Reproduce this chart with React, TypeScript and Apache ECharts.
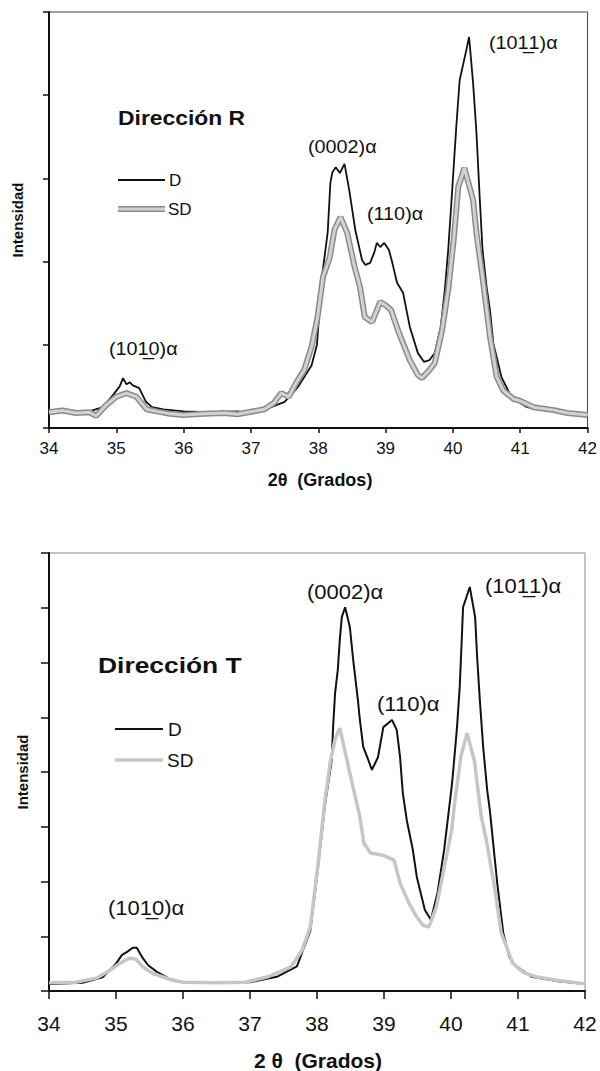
import React, { useEffect, useRef } from "react";
import * as echarts from "echarts";

// ---------- Data (2θ in degrees, intensity in arbitrary units) ----------
// Top panel: Dirección R  (y axis 0..100)
const rThetaD = [34.0, 34.3, 34.6, 34.8, 34.95, 35.05, 35.1, 35.15, 35.2, 35.24, 35.34, 35.44, 35.53, 35.7, 36.0, 36.4, 36.8, 37.0, 37.3, 37.5, 37.7, 37.9, 37.98, 38.06, 38.14, 38.18, 38.21, 38.26, 38.32, 38.39, 38.46, 38.55, 38.65, 38.7, 38.77, 38.83, 38.87, 38.92, 38.98, 39.05, 39.1, 39.17, 39.26, 39.36, 39.48, 39.57, 39.65, 39.73, 39.82, 39.88, 39.93, 39.98, 40.05, 40.1, 40.2, 40.24, 40.3, 40.35, 40.4, 40.44, 40.5, 40.55, 40.6, 40.72, 40.89, 40.97, 41.0, 41.1, 41.4, 41.8, 42.0];
const rIntD = [4.0, 4.2, 4.0, 5.0, 7.9, 10.0, 12.0, 10.5, 11.0, 10.3, 9.6, 6.3, 5.0, 4.5, 4.0, 3.8, 4.0, 3.6, 5.0, 6.3, 9.9, 15, 20, 37, 47, 59, 61.5, 62.7, 61.3, 63.5, 57.2, 47.6, 40.4, 39.2, 39.7, 42.1, 44.5, 43.5, 44.5, 42.8, 39.7, 34.9, 32.5, 24.3, 18, 15.9, 16.3, 18, 24.3, 33.2, 42.8, 54.8, 72.4, 83.6, 90.9, 94, 82.9, 70.9, 54.8, 42.8, 34, 28.4, 20.4, 12.3, 6.7, 7.2, 6.0, 5.0, 4.3, 3.5, 3.2];
const rThetaSD = [34.0, 34.2, 34.4, 34.6, 34.7, 34.85, 35.0, 35.15, 35.3, 35.45, 35.6, 35.8, 36.0, 36.3, 36.6, 36.8, 37.0, 37.2, 37.34, 37.45, 37.56, 37.67, 37.79, 37.9, 37.99, 38.07, 38.17, 38.24, 38.33, 38.43, 38.54, 38.62, 38.69, 38.8, 38.92, 39.0, 39.08, 39.2, 39.36, 39.48, 39.54, 39.65, 39.73, 39.84, 39.93, 40.01, 40.08, 40.17, 40.3, 40.35, 40.45, 40.55, 40.65, 40.75, 40.9, 41.0, 41.2, 41.5, 41.7, 42.0];
const rIntSD = [3.8, 4.2, 3.6, 3.8, 2.9, 5.5, 7.5, 8.4, 7.5, 4.5, 4.0, 3.4, 3.1, 3.4, 3.6, 3.3, 3.9, 4.5, 6.0, 8.4, 7.5, 10.8, 13.9, 19.5, 26.7, 36.3, 41, 47.6, 50.7, 46.9, 38.7, 33.9, 26.7, 25.5, 30.3, 29.5, 28.4, 22.8, 16.3, 12.7, 12.0, 13.9, 15.6, 23.6, 33.2, 45, 58, 62.5, 54.8, 46.9, 35, 22, 12.3, 9.0, 7.0, 6.5, 5.0, 4.3, 3.6, 3.1];

// Bottom panel: Dirección T  (y axis 0..80)
const tThetaD = [34.0, 34.5, 34.8, 35.0, 35.09, 35.16, 35.25, 35.31, 35.4, 35.48, 35.61, 35.8, 36.0, 37.0, 37.4, 37.7, 37.9, 38.0, 38.12, 38.22, 38.24, 38.27, 38.31, 38.34, 38.37, 38.42, 38.49, 38.54, 38.61, 38.64, 38.69, 38.75, 38.82, 38.91, 38.99, 39.12, 39.19, 39.24, 39.28, 39.34, 39.43, 39.49, 39.61, 39.7, 39.8, 39.9, 40.01, 40.03, 40.09, 40.13, 40.16, 40.18, 40.28, 40.36, 40.39, 40.43, 40.48, 40.54, 40.58, 40.69, 40.78, 40.87, 40.96, 41.2, 41.6, 42.0];
const tIntD = [1.3, 1.5, 2.5, 5.0, 6.6, 7.1, 7.9, 7.9, 6.0, 4.7, 3.5, 2.2, 1.6, 1.6, 2.6, 4.5, 11, 21, 34, 42.2, 48.2, 54.4, 58.6, 64.1, 68.3, 70.1, 66.5, 60.5, 53.2, 49.5, 44.6, 42.7, 40.4, 42.7, 48.2, 49.5, 47.7, 42.7, 36.2, 31.2, 25.8, 20.8, 14.8, 13.0, 18, 26, 37.3, 39.8, 48.2, 55.5, 64.1, 70.1, 73.8, 68.3, 61.0, 53.2, 44.6, 36.7, 33, 19.7, 10.6, 6.2, 4.7, 2.6, 1.8, 1.3];
const tThetaSD = [34.0, 34.4, 34.72, 34.91, 35.05, 35.2, 35.3, 35.4, 35.55, 35.84, 36.0, 36.5, 36.93, 37.27, 37.61, 37.78, 37.9, 38.01, 38.12, 38.2, 38.27, 38.34, 38.49, 38.64, 38.7, 38.8, 38.98, 39.15, 39.24, 39.37, 39.49, 39.58, 39.67, 39.78, 39.9, 40.01, 40.06, 40.15, 40.24, 40.35, 40.45, 40.52, 40.64, 40.75, 40.92, 41.09, 41.27, 41.55, 42.0];
const tIntSD = [1.5, 1.6, 2.4, 3.8, 5.0, 6.0, 5.8, 4.4, 3.2, 2.0, 1.6, 1.5, 1.6, 2.6, 4.4, 7.5, 11.7, 22.6, 34.9, 42, 46, 48, 39.8, 31.8, 27, 25.2, 24.8, 23.9, 19.7, 16.1, 13.5, 12.0, 11.7, 15.3, 22.6, 29.4, 34.9, 43, 47.1, 42, 32, 28, 19.7, 10.6, 5.1, 3.3, 2.6, 2.0, 1.3];

// Axis ticks
const thetaMin = 34;
const thetaMax = 42;
const thetaStep = 1;
const rIntMax = 100;
const rIntStep = 20;
const tIntMax = 80;
const tIntStep = 10;

// Labels
const seriesNames = ["D", "SD"];
const panelTitles = ["Dirección R", "Dirección T"];
const peakLabels = ["(101\u03321)\u03b1", "(0002)\u03b1", "(110)\u03b1", "(101\u03320)\u03b1"];
const xAxisTitles = ["2\u03b8  (Grados)", "2 \u03b8  (Grados)"];
const yAxisTitle = "Intensidad";

const zip = (a: number[], b: number[]) => a.map((v, i) => [v, b[i]]);

const FONT = "'Liberation Sans', Arial, sans-serif";

function txt(text: string, x: number, y: number, size: number, opts: any = {}) {
  return {
    type: "text",
    x,
    y,
    rotation: opts.rotation || 0,
    scaleX: opts.sx || 1,
    silent: true,
    z: 100,
    style: {
      text,
      fill: "#111",
      font: `${opts.bold ? "bold " : ""}${size}px ${FONT}`,
      textAlign: opts.align || "left",
      align: opts.align || "left",
      textVerticalAlign: "middle",
      verticalAlign: "middle",
    },
  };
}

function seg(x1: number, y1: number, x2: number, y2: number, color: string, w: number) {
  return {
    type: "line",
    silent: true,
    z: 100,
    shape: { x1, y1, x2, y2 },
    style: { stroke: color, lineWidth: w },
  };
}

export default function App() {
  const ref = useRef<HTMLDivElement>(null);
  useEffect(() => {
    if (!ref.current) return;
    const chart = echarts.init(ref.current, undefined, { renderer: "svg" });

    const xAxisBase = (fontSize: number, margin: number, tickLen: number) => ({
      type: "value",
      min: thetaMin,
      max: thetaMax,
      interval: thetaStep,
      axisLine: { show: true, onZero: false, lineStyle: { color: "#111", width: 2 } },
      axisTick: { show: true, inside: false, length: tickLen, lineStyle: { color: "#111", width: 1.5 } },
      axisLabel: { show: true, fontSize, color: "#111", margin, fontFamily: FONT },
      splitLine: { show: false },
    });
    const yAxisBase = (max: number, step: number, tickLen: number) => ({
      type: "value",
      min: 0,
      max,
      interval: step,
      axisLine: { show: true, onZero: false, lineStyle: { color: "#111", width: 2 } },
      axisTick: { show: true, inside: false, length: tickLen, lineStyle: { color: "#111", width: 1.5 } },
      axisLabel: { show: false },
      splitLine: { show: false },
    });

    const option: any = {
      animation: false,
      backgroundColor: "#fff",
      grid: [
        { left: 49, top: 12, width: 543, height: 416, show: true, borderColor: "#444", borderWidth: 1, backgroundColor: "transparent" },
        { left: 49, top: 553, width: 536, height: 438, show: true, borderColor: "#888", borderWidth: 1, backgroundColor: "transparent" },
      ],
      xAxis: [
        { ...xAxisBase(17, 12, 5), gridIndex: 0 },
        { ...xAxisBase(21, 22, 8), gridIndex: 1 },
      ],
      yAxis: [
        { ...yAxisBase(rIntMax, rIntStep, 6), gridIndex: 0 },
        { ...yAxisBase(tIntMax, tIntStep, 8), gridIndex: 1 },
      ],
      series: [
        {
          name: seriesNames[0], type: "line", xAxisIndex: 0, yAxisIndex: 0, showSymbol: false, silent: true, z: 2,
          data: zip(rThetaD, rIntD), lineStyle: { color: "#111", width: 1.8 },
        },
        {
          name: seriesNames[1], type: "line", xAxisIndex: 0, yAxisIndex: 0, showSymbol: false, silent: true, z: 3,
          data: zip(rThetaSD, rIntSD), lineStyle: { color: "#8a8a8a", width: 6 },
        },
        {
          name: seriesNames[1], type: "line", xAxisIndex: 0, yAxisIndex: 0, showSymbol: false, silent: true, z: 4,
          data: zip(rThetaSD, rIntSD), lineStyle: { color: "#d2d2d2", width: 3 },
        },
        {
          name: seriesNames[0], type: "line", xAxisIndex: 1, yAxisIndex: 1, showSymbol: false, silent: true, z: 2,
          data: zip(tThetaD, tIntD), lineStyle: { color: "#111", width: 2 },
        },
        {
          name: seriesNames[1], type: "line", xAxisIndex: 1, yAxisIndex: 1, showSymbol: false, silent: true, z: 3,
          data: zip(tThetaSD, tIntSD), lineStyle: { color: "#c6c6c6", width: 3.5 },
        },
      ],
      graphic: [
        // Top panel
        txt(panelTitles[0], 118, 118, 21, { bold: true, sx: 1.09 }),
        seg(118, 180, 165, 180, "#111", 1.8),
        txt(seriesNames[0], 169, 180, 17),
        seg(118, 209, 165, 209, "#8a8a8a", 6),
        seg(118, 209, 165, 209, "#d2d2d2", 3),
        txt(seriesNames[1], 168, 209, 17),
        txt(peakLabels[0], 489, 43, 18, { sx: 1.1 }),
        txt(peakLabels[1], 308, 147, 18, { sx: 1.1 }),
        txt(peakLabels[2], 367, 214, 18, { sx: 1.1 }),
        txt(peakLabels[3], 109, 349, 18, { sx: 1.1 }),
        txt(xAxisTitles[0], 320, 480, 18, { bold: true, align: "center" }),
        txt(yAxisTitle, 17, 220, 15, { bold: true, align: "center", rotation: Math.PI / 2 }),
        // Bottom panel
        txt(panelTitles[1], 98, 665, 22, { bold: true, sx: 1.2 }),
        seg(115, 729, 163, 729, "#111", 2),
        txt(seriesNames[0], 168, 729, 19),
        seg(115, 760, 163, 760, "#c6c6c6", 3.5),
        txt(seriesNames[1], 167, 760, 19),
        txt(peakLabels[0], 485, 586, 20, { sx: 1.1 }),
        txt(peakLabels[1], 307, 592, 20, { sx: 1.1 }),
        txt(peakLabels[2], 377, 704, 20, { sx: 1.1 }),
        txt(peakLabels[3], 108, 908, 20, { sx: 1.1 }),
        txt(xAxisTitles[1], 318, 1060, 21, { bold: true, align: "center" }),
        txt(yAxisTitle, 22, 772, 15, { bold: true, align: "center", rotation: Math.PI / 2 }),
      ],
    };
    chart.setOption(option);
    return () => chart.dispose();
  }, []);
  return (
    <div
      ref={ref}
      style={{ position: "absolute", left: 0, top: 0, width: 600, height: 1071, background: "#fff" }}
    />
  );
}
